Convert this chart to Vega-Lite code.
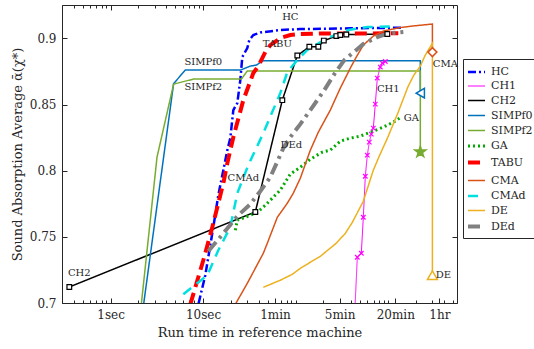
{
  "$schema": "https://vega.github.io/schema/vega-lite/v6.json",
  "width": 395,
  "height": 298,
  "autosize": "none",
  "padding": {"left": 62, "top": 5, "right": 77, "bottom": 46},
  "background": "white",
  "config": {
    "font": "DejaVu Serif",
    "view": {"stroke": "#262626", "strokeWidth": 1},
    "axis": {"grid": false, "domain": false, "tickColor": "#262626", "labelColor": "#262626", "titleColor": "#262626", "labelFont": "DejaVu Serif", "titleFont": "DejaVu Serif", "labelFontSize": 12, "titleFontSize": 13, "titleFontWeight": "normal"}
  },
  "datasets": {
    "series": [
      {"m": "HC", "i": 0, "t": 8.95, "v": 0.6998},
      {"m": "HC", "i": 1, "t": 10.57, "v": 0.7210},
      {"m": "HC", "i": 2, "t": 12.91, "v": 0.7573},
      {"m": "HC", "i": 3, "t": 14.62, "v": 0.7815},
      {"m": "HC", "i": 4, "t": 16.56, "v": 0.8004},
      {"m": "HC", "i": 5, "t": 18.30, "v": 0.8155},
      {"m": "HC", "i": 6, "t": 19.71, "v": 0.8246},
      {"m": "HC", "i": 7, "t": 21.25, "v": 0.8458},
      {"m": "HC", "i": 8, "t": 23.47, "v": 0.8511},
      {"m": "HC", "i": 9, "t": 25.29, "v": 0.8685},
      {"m": "HC", "i": 10, "t": 26.58, "v": 0.8859},
      {"m": "HC", "i": 11, "t": 30.10, "v": 0.8927},
      {"m": "HC", "i": 12, "t": 31.64, "v": 0.8987},
      {"m": "HC", "i": 13, "t": 34.96, "v": 0.9025},
      {"m": "HC", "i": 14, "t": 41.59, "v": 0.9044},
      {"m": "HC", "i": 15, "t": 68.45, "v": 0.9063},
      {"m": "HC", "i": 16, "t": 112.7, "v": 0.9070},
      {"m": "HC", "i": 17, "t": 391.4, "v": 0.9076},
      {"m": "HC", "i": 18, "t": 1466, "v": 0.9080},

      {"m": "CH1", "i": 0, "t": 441.3, "v": 0.699},
      {"m": "CH1", "i": 1, "t": 466.0, "v": 0.7346},
      {"m": "CH1", "i": 2, "t": 514.9, "v": 0.7376},
      {"m": "CH1", "i": 3, "t": 541.2, "v": 0.7648},
      {"m": "CH1", "i": 4, "t": 568.8, "v": 0.7958},
      {"m": "CH1", "i": 5, "t": 597.8, "v": 0.8117},
      {"m": "CH1", "i": 6, "t": 628.3, "v": 0.8216},
      {"m": "CH1", "i": 7, "t": 660.3, "v": 0.8276},
      {"m": "CH1", "i": 8, "t": 694.3, "v": 0.8322},
      {"m": "CH1", "i": 9, "t": 729.7, "v": 0.8503},
      {"m": "CH1", "i": 10, "t": 766.9, "v": 0.8700},
      {"m": "CH1", "i": 11, "t": 826.3, "v": 0.8783},
      {"m": "CH1", "i": 12, "t": 868.5, "v": 0.8813},
      {"m": "CH1", "i": 13, "t": 936.1, "v": 0.8825},

      {"m": "CH2", "i": 0, "t": 0.3575, "v": 0.7121},
      {"m": "CH2", "i": 1, "t": 36.75, "v": 0.7688},
      {"m": "CH2", "i": 2, "t": 71.99, "v": 0.8533},
      {"m": "CH2", "i": 3, "t": 104.6, "v": 0.8870},
      {"m": "CH2", "i": 4, "t": 141.1, "v": 0.8936},
      {"m": "CH2", "i": 5, "t": 176.5, "v": 0.8936},
      {"m": "CH2", "i": 6, "t": 202.4, "v": 0.8983},
      {"m": "CH2", "i": 7, "t": 276.3, "v": 0.9017},
      {"m": "CH2", "i": 8, "t": 305.1, "v": 0.9025},
      {"m": "CH2", "i": 9, "t": 354.4, "v": 0.9029},
      {"m": "CH2", "i": 10, "t": 984, "v": 0.9033},

      {"m": "SIMPf0", "i": 0, "t": 2.275, "v": 0.699},
      {"m": "SIMPf0", "i": 1, "t": 4.802, "v": 0.8658},
      {"m": "SIMPf0", "i": 2, "t": 6.427, "v": 0.8760},
      {"m": "SIMPf0", "i": 3, "t": 25.29, "v": 0.8760},
      {"m": "SIMPf0", "i": 4, "t": 32.44, "v": 0.8790},
      {"m": "SIMPf0", "i": 5, "t": 37.67, "v": 0.8798},
      {"m": "SIMPf0", "i": 6, "t": 44.85, "v": 0.8831},
      {"m": "SIMPf0", "i": 7, "t": 2238, "v": 0.8831},
      {"m": "SIMPf0", "i": 8, "t": 2238, "v": 0.8586},

      {"m": "SIMPf2", "i": 0, "t": 2.148, "v": 0.699},
      {"m": "SIMPf2", "i": 1, "t": 3.176, "v": 0.8102},
      {"m": "SIMPf2", "i": 2, "t": 4.802, "v": 0.8654},
      {"m": "SIMPf2", "i": 3, "t": 7.845, "v": 0.8692},
      {"m": "SIMPf2", "i": 4, "t": 25.93, "v": 0.8692},
      {"m": "SIMPf2", "i": 5, "t": 30.10, "v": 0.8753},
      {"m": "SIMPf2", "i": 6, "t": 2238, "v": 0.8753},
      {"m": "SIMPf2", "i": 7, "t": 2238, "v": 0.8142},

      {"m": "GA", "i": 0, "t": 22.33, "v": 0.7550},
      {"m": "GA", "i": 1, "t": 23.47, "v": 0.7626},
      {"m": "GA", "i": 2, "t": 32.44, "v": 0.7663},
      {"m": "GA", "i": 3, "t": 38.63, "v": 0.7686},
      {"m": "GA", "i": 4, "t": 47.13, "v": 0.7739},
      {"m": "GA", "i": 5, "t": 68.45, "v": 0.7853},
      {"m": "GA", "i": 6, "t": 87.86, "v": 0.7974},
      {"m": "GA", "i": 7, "t": 112.7, "v": 0.8026},
      {"m": "GA", "i": 8, "t": 144.6, "v": 0.8087},
      {"m": "GA", "i": 9, "t": 195.0, "v": 0.8140},
      {"m": "GA", "i": 10, "t": 237.9, "v": 0.8155},
      {"m": "GA", "i": 11, "t": 305.1, "v": 0.8223},
      {"m": "GA", "i": 12, "t": 391.4, "v": 0.8246},
      {"m": "GA", "i": 13, "t": 502.3, "v": 0.8261},
      {"m": "GA", "i": 14, "t": 694.3, "v": 0.8299},
      {"m": "GA", "i": 15, "t": 890.5, "v": 0.8329},
      {"m": "GA", "i": 16, "t": 1143, "v": 0.8367},
      {"m": "GA", "i": 17, "t": 1395, "v": 0.8405},

      {"m": "TABU", "i": 0, "t": 7.28, "v": 0.699},
      {"m": "TABU", "i": 1, "t": 10.06, "v": 0.7323},
      {"m": "TABU", "i": 2, "t": 12.59, "v": 0.7573},
      {"m": "TABU", "i": 3, "t": 16.56, "v": 0.7905},
      {"m": "TABU", "i": 4, "t": 18.30, "v": 0.8057},
      {"m": "TABU", "i": 5, "t": 21.25, "v": 0.8253},
      {"m": "TABU", "i": 6, "t": 27.25, "v": 0.8533},
      {"m": "TABU", "i": 7, "t": 34.96, "v": 0.8738},
      {"m": "TABU", "i": 8, "t": 39.59, "v": 0.8790},
      {"m": "TABU", "i": 9, "t": 47.13, "v": 0.8896},
      {"m": "TABU", "i": 10, "t": 53.38, "v": 0.8949},
      {"m": "TABU", "i": 11, "t": 68.45, "v": 0.9002},
      {"m": "TABU", "i": 12, "t": 87.86, "v": 0.9025},
      {"m": "TABU", "i": 13, "t": 112.7, "v": 0.9033},
      {"m": "TABU", "i": 14, "t": 185.5, "v": 0.9036},
      {"m": "TABU", "i": 15, "t": 1294, "v": 0.9038},

      {"m": "CMA", "i": 0, "t": 22.33, "v": 0.699},
      {"m": "CMA", "i": 1, "t": 30.10, "v": 0.7149},
      {"m": "CMA", "i": 2, "t": 44.85, "v": 0.7376},
      {"m": "CMA", "i": 3, "t": 49.55, "v": 0.7452},
      {"m": "CMA", "i": 4, "t": 63.56, "v": 0.7648},
      {"m": "CMA", "i": 5, "t": 81.52, "v": 0.7754},
      {"m": "CMA", "i": 6, "t": 94.67, "v": 0.7830},
      {"m": "CMA", "i": 7, "t": 112.7, "v": 0.7943},
      {"m": "CMA", "i": 8, "t": 144.6, "v": 0.8155},
      {"m": "CMA", "i": 9, "t": 176.5, "v": 0.8291},
      {"m": "CMA", "i": 10, "t": 237.9, "v": 0.8458},
      {"m": "CMA", "i": 11, "t": 305.1, "v": 0.8624},
      {"m": "CMA", "i": 12, "t": 391.4, "v": 0.8775},
      {"m": "CMA", "i": 13, "t": 454.6, "v": 0.8859},
      {"m": "CMA", "i": 14, "t": 541.2, "v": 0.8949},
      {"m": "CMA", "i": 15, "t": 694.3, "v": 0.9017},
      {"m": "CMA", "i": 16, "t": 890.5, "v": 0.9055},
      {"m": "CMA", "i": 17, "t": 1362, "v": 0.9082},
      {"m": "CMA", "i": 18, "t": 2081, "v": 0.9097},
      {"m": "CMA", "i": 19, "t": 3024, "v": 0.9108},
      {"m": "CMA", "i": 20, "t": 3024, "v": 0.8896},

      {"m": "CMAd", "i": 0, "t": 6.114, "v": 0.7066},
      {"m": "CMAd", "i": 1, "t": 11.12, "v": 0.7210},
      {"m": "CMAd", "i": 2, "t": 14.62, "v": 0.7399},
      {"m": "CMAd", "i": 3, "t": 19.71, "v": 0.7573},
      {"m": "CMAd", "i": 4, "t": 23.47, "v": 0.7830},
      {"m": "CMAd", "i": 5, "t": 30.86, "v": 0.8042},
      {"m": "CMAd", "i": 6, "t": 44.85, "v": 0.8284},
      {"m": "CMAd", "i": 7, "t": 68.45, "v": 0.8586},
      {"m": "CMAd", "i": 8, "t": 81.52, "v": 0.8745},
      {"m": "CMAd", "i": 9, "t": 104.6, "v": 0.8836},
      {"m": "CMAd", "i": 10, "t": 134.2, "v": 0.8912},
      {"m": "CMAd", "i": 11, "t": 172.2, "v": 0.8957},
      {"m": "CMAd", "i": 12, "t": 220.8, "v": 0.9002},
      {"m": "CMAd", "i": 13, "t": 305.1, "v": 0.9040},
      {"m": "CMAd", "i": 14, "t": 372.6, "v": 0.9063},
      {"m": "CMAd", "i": 15, "t": 598.0, "v": 0.9086},
      {"m": "CMAd", "i": 16, "t": 1143, "v": 0.9089},

      {"m": "DE", "i": 0, "t": 44.85, "v": 0.7119},
      {"m": "DE", "i": 1, "t": 68.45, "v": 0.7172},
      {"m": "DE", "i": 2, "t": 92.35, "v": 0.7217},
      {"m": "DE", "i": 3, "t": 112.7, "v": 0.7262},
      {"m": "DE", "i": 4, "t": 144.6, "v": 0.7308},
      {"m": "DE", "i": 5, "t": 185.5, "v": 0.7353},
      {"m": "DE", "i": 6, "t": 276.3, "v": 0.7452},
      {"m": "DE", "i": 7, "t": 346.1, "v": 0.7527},
      {"m": "DE", "i": 8, "t": 412.0, "v": 0.7610},
      {"m": "DE", "i": 9, "t": 541.2, "v": 0.7769},
      {"m": "DE", "i": 10, "t": 694.3, "v": 0.8004},
      {"m": "DE", "i": 11, "t": 796.0, "v": 0.8102},
      {"m": "DE", "i": 12, "t": 996.3, "v": 0.8253},
      {"m": "DE", "i": 13, "t": 1278, "v": 0.8435},
      {"m": "DE", "i": 14, "t": 1640, "v": 0.8632},
      {"m": "DE", "i": 15, "t": 1904, "v": 0.8722},
      {"m": "DE", "i": 16, "t": 2238, "v": 0.8790},
      {"m": "DE", "i": 17, "t": 2535, "v": 0.8874},
      {"m": "DE", "i": 18, "t": 3024, "v": 0.8962},
      {"m": "DE", "i": 19, "t": 3024, "v": 0.7210},

      {"m": "DEd", "i": 0, "t": 11.40, "v": 0.7391},
      {"m": "DEd", "i": 1, "t": 16.98, "v": 0.7535},
      {"m": "DEd", "i": 2, "t": 23.47, "v": 0.7656},
      {"m": "DEd", "i": 3, "t": 32.44, "v": 0.7747},
      {"m": "DEd", "i": 4, "t": 41.59, "v": 0.7845},
      {"m": "DEd", "i": 5, "t": 53.38, "v": 0.7951},
      {"m": "DEd", "i": 6, "t": 73.79, "v": 0.8170},
      {"m": "DEd", "i": 7, "t": 87.86, "v": 0.8253},
      {"m": "DEd", "i": 8, "t": 112.7, "v": 0.8352},
      {"m": "DEd", "i": 9, "t": 144.6, "v": 0.8458},
      {"m": "DEd", "i": 10, "t": 205.0, "v": 0.8609},
      {"m": "DEd", "i": 11, "t": 262.9, "v": 0.8730},
      {"m": "DEd", "i": 12, "t": 337.2, "v": 0.8836},
      {"m": "DEd", "i": 13, "t": 391.4, "v": 0.8874},
      {"m": "DEd", "i": 14, "t": 541.2, "v": 0.8957},
      {"m": "DEd", "i": 15, "t": 767.1, "v": 0.9010},
      {"m": "DEd", "i": 16, "t": 984, "v": 0.9036},
      {"m": "DEd", "i": 17, "t": 1466, "v": 0.9048}
    ],
    "labels": [
      {"label": "HC", "t": 87.86, "v": 0.9161},
      {"label": "TABU", "t": 63.56, "v": 0.8957},
      {"label": "SIMPf0", "t": 10.06, "v": 0.8821},
      {"label": "SIMPf2", "t": 10.06, "v": 0.8632},
      {"label": "CMAd", "t": 27.25, "v": 0.7943},
      {"label": "DEd", "t": 90.08, "v": 0.8193},
      {"label": "CH2", "t": 0.4586, "v": 0.7227},
      {"label": "CH1", "t": 1009, "v": 0.8614},
      {"label": "GA", "t": 1789, "v": 0.8397},
      {"label": "CMA", "t": 4172, "v": 0.8806},
      {"label": "DE", "t": 3970, "v": 0.7210}
    ]
  },
  "layer": [
    {
      "data": {"name": "series"},
      "mark": {"type": "line", "clip": true, "strokeCap": "butt"},
      "encoding": {
        "x": {"field": "t", "type": "quantitative", "scale": {"type": "log", "domain": [0.298, 5580], "nice": false},
          "axis": {"orient": "bottom", "values": [1, 10, 60, 300, 1200, 3600], "labelExpr": "datum.value == 1 ? '1sec' : datum.value == 10 ? '10sec' : datum.value == 60 ? '1min' : datum.value == 300 ? '5min' : datum.value == 1200 ? '20min' : '1hr'", "title": "Run time in reference machine", "tickSize": -5, "labelPadding": 11, "titlePadding": 6}},
        "y": {"field": "v", "type": "quantitative", "scale": {"domain": [0.7, 0.9252], "nice": false, "zero": false},
          "axis": {"orient": "left", "values": [0.7, 0.75, 0.8, 0.85, 0.9], "format": ".2~f", "title": "Sound Absorption Average ᾱ(χ*)", "tickSize": -5, "labelPadding": 11, "titlePadding": 5}},
        "order": {"field": "i", "type": "quantitative"},
        "color": {"field": "m", "type": "nominal", "title": null,
          "scale": {"domain": ["HC", "CH1", "CH2", "SIMPf0", "SIMPf2", "GA", "TABU", "CMA", "CMAd", "DE", "DEd"],
            "range": ["#0000FF", "#FF00FF", "#000000", "#0072BD", "#77AC30", "#00AA00", "#FF0000", "#D95319", "#00E0E0", "#EDB120", "#808080"]},
          "legend": {"orient": "none", "legendX": 401, "legendY": 54, "strokeColor": "#262626", "fillColor": "white", "padding": 3, "labelFont": "DejaVu Serif", "labelFontSize": 11, "labelColor": "#262626", "symbolType": "stroke", "symbolSize": 289, "rowPadding": 0, "labelOffset": 4}},
        "strokeDash": {"field": "m", "type": "nominal", "title": null,
          "scale": {"type": "ordinal", "domain": ["HC", "CH1", "CH2", "SIMPf0", "SIMPf2", "GA", "TABU", "CMA", "CMAd", "DE", "DEd"],
            "range": [[8, 3, 2, 3], [1, 0], [1, 0], [1, 0], [1, 0], [2, 3], [12, 6], [1, 0], [10, 7], [1, 0], [12, 5, 3, 5]]}},
        "strokeWidth": {"field": "m", "type": "nominal", "title": null,
          "scale": {"type": "ordinal", "domain": ["HC", "CH1", "CH2", "SIMPf0", "SIMPf2", "GA", "TABU", "CMA", "CMAd", "DE", "DEd"],
            "range": [2.5, 1, 1.5, 1.5, 1.5, 3, 4, 1.5, 2.5, 1.5, 4]}}
      }
    },
    {
      "data": {"name": "series"},
      "transform": [{"filter": "(datum.m == 'CH1' && datum.i > 0) || datum.m == 'CH2'"}],
      "mark": {"type": "point", "clip": true, "strokeWidth": 1.2, "opacity": 1},
      "encoding": {
        "x": {"field": "t", "type": "quantitative", "scale": {"type": "log", "domain": [0.298, 5580], "nice": false},
          "axis": {"orient": "top", "values": [1, 10, 60, 300, 1200, 3600], "labels": false, "title": null, "tickSize": -5}},
        "y": {"field": "v", "type": "quantitative", "scale": {"domain": [0.7, 0.9252], "nice": false, "zero": false},
          "axis": {"orient": "right", "values": [0.7, 0.75, 0.8, 0.85, 0.9], "labels": false, "title": null, "tickSize": -5}},
        "shape": {"field": "m", "type": "nominal", "legend": null,
          "scale": {"type": "ordinal", "domain": ["CH1", "CH2", "SIMPf0", "SIMPf2", "CMA", "DE"],
            "range": ["M-1,-1L1,1M-1,1L1,-1", "square", "triangle-left", "M0,-1L0.2245,-0.309L0.951,-0.309L0.363,0.118L0.588,0.809L0,0.382L-0.588,0.809L-0.363,0.118L-0.951,-0.309L-0.2245,-0.309Z", "diamond", "triangle-up"]}},
        "size": {"field": "m", "type": "nominal", "legend": null,
          "scale": {"type": "ordinal", "domain": ["CH1", "CH2", "SIMPf0", "SIMPf2", "CMA", "DE"], "range": [20, 22, 90, 130, 80, 100]}},
        "stroke": {"field": "m", "type": "nominal", "legend": null,
          "scale": {"domain": ["CH1", "CH2", "SIMPf0", "SIMPf2", "CMA", "DE"], "range": ["#FF00FF", "#000000", "#0072BD", "#77AC30", "#D95319", "#EDB120"]}},
        "fill": {"field": "m", "type": "nominal", "legend": null,
          "scale": {"domain": ["CH1", "CH2", "SIMPf0", "SIMPf2", "CMA", "DE"], "range": ["white", "white", "white", "#77AC30", "white", "white"]}}
      }
    },
    {
      "data": {"name": "series"},
      "transform": [
        {"joinaggregate": [{"op": "max", "field": "i", "as": "last"}], "groupby": ["m"]},
        {"filter": "indexof(['SIMPf0', 'SIMPf2', 'CMA', 'DE'], datum.m) >= 0 && datum.i == datum.last"}
      ],
      "mark": {"type": "point", "clip": false, "strokeWidth": 1.5, "opacity": 1},
      "encoding": {
        "x": {"field": "t", "type": "quantitative", "scale": {"type": "log", "domain": [0.298, 5580], "nice": false},
          "axis": {"orient": "top", "values": [0.3, 0.4, 0.5, 0.6, 0.7, 0.8, 0.9, 2, 3, 4, 5, 6, 7, 8, 9, 20, 30, 40, 50, 70, 80, 90, 100, 200, 400, 500, 600, 700, 800, 900, 1000, 2000, 3000, 4000, 5000], "labels": false, "title": null, "tickSize": -3}},
        "y": {"field": "v", "type": "quantitative", "scale": {"domain": [0.7, 0.9252], "nice": false, "zero": false}, "axis": null},
        "shape": {"field": "m", "type": "nominal", "legend": null,
          "scale": {"type": "ordinal", "domain": ["CH1", "CH2", "SIMPf0", "SIMPf2", "CMA", "DE"],
            "range": ["M-1,-1L1,1M-1,1L1,-1", "square", "triangle-left", "M0,-1L0.2245,-0.309L0.951,-0.309L0.363,0.118L0.588,0.809L0,0.382L-0.588,0.809L-0.363,0.118L-0.951,-0.309L-0.2245,-0.309Z", "diamond", "triangle-up"]}},
        "size": {"field": "m", "type": "nominal", "legend": null,
          "scale": {"type": "ordinal", "domain": ["CH1", "CH2", "SIMPf0", "SIMPf2", "CMA", "DE"], "range": [20, 22, 90, 130, 80, 100]}},
        "stroke": {"field": "m", "type": "nominal", "legend": null,
          "scale": {"domain": ["CH1", "CH2", "SIMPf0", "SIMPf2", "CMA", "DE"], "range": ["#FF00FF", "#000000", "#0072BD", "#77AC30", "#D95319", "#EDB120"]}},
        "fill": {"field": "m", "type": "nominal", "legend": null,
          "scale": {"domain": ["CH1", "CH2", "SIMPf0", "SIMPf2", "CMA", "DE"], "range": ["white", "white", "white", "#77AC30", "white", "white"]}}
      }
    },
    {
      "data": {"name": "labels"},
      "mark": {"type": "text", "font": "DejaVu Serif", "fontSize": 10, "color": "#262626", "align": "center", "baseline": "middle"},
      "encoding": {
        "x": {"field": "t", "type": "quantitative", "scale": {"type": "log", "domain": [0.298, 5580], "nice": false},
          "axis": {"orient": "bottom", "values": [0.3, 0.4, 0.5, 0.6, 0.7, 0.8, 0.9, 2, 3, 4, 5, 6, 7, 8, 9, 20, 30, 40, 50, 70, 80, 90, 100, 200, 400, 500, 600, 700, 800, 900, 1000, 2000, 3000, 4000, 5000], "labels": false, "title": null, "tickSize": -3}},
        "y": {"field": "v", "type": "quantitative", "scale": {"domain": [0.7, 0.9252], "nice": false, "zero": false}, "axis": null},
        "text": {"field": "label", "type": "nominal"}
      }
    }
  ],
  "resolve": {"axis": {"x": "independent", "y": "independent"}}
}
